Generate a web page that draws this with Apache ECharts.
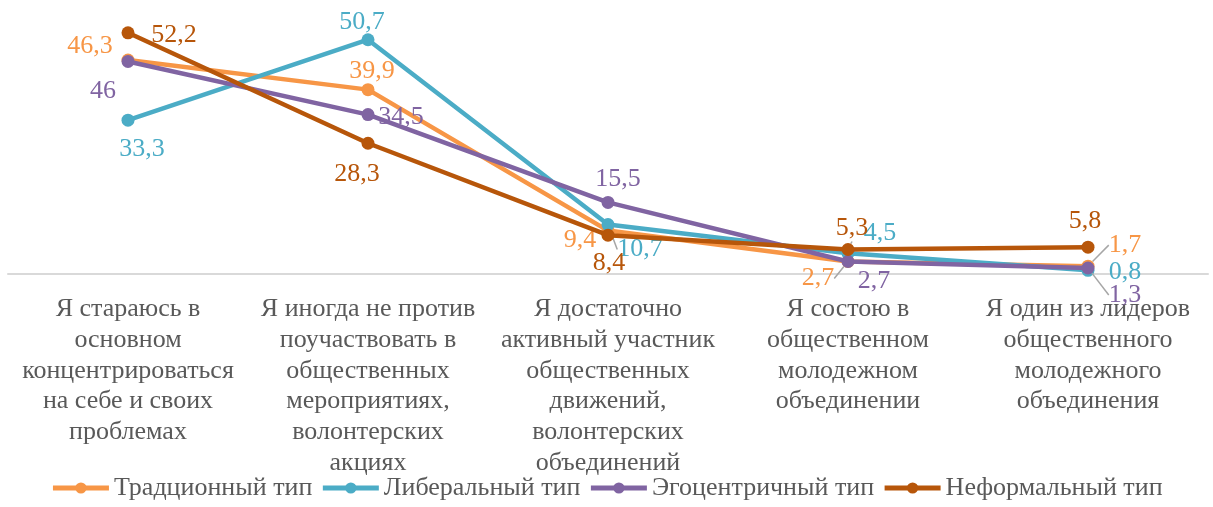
<!DOCTYPE html>
<html><head><meta charset="utf-8">
<script src="https://cdn.jsdelivr.net/npm/echarts@6/dist/echarts.min.js"></script>
<style>html,body{margin:0;padding:0;background:#fff}#c{width:1213px;height:507px}</style>
</head><body><div id="c"></div>
<script>
const categories = [
  'Я стараюсь в основном концентрироваться на себе и своих проблемах',
  'Я иногда не против поучаствовать в общественных мероприятиях, волонтерских акциях',
  'Я достаточно активный участник общественных движений, волонтерских объединений',
  'Я состою в общественном молодежном объединении',
  'Я один из лидеров общественного молодежного объединения'
];
const seriesNames = ['Традционный тип', 'Либеральный тип', 'Эгоцентричный тип', 'Неформальный тип'];
const traditional = [46.3, 39.9, 9.4, 2.7, 1.7];
const liberal = [33.3, 50.7, 10.7, 4.5, 0.8];
const egocentric = [46, 34.5, 15.5, 2.7, 1.3];
const informal = [52.2, 28.3, 8.4, 5.3, 5.8];

const colors = ['#F79646', '#4BACC6', '#8064A2', '#B7560A'];
// label center offsets relative to point [dx, dy]
const offsets = [
  [[-38,-14],[4,-18],[-28,10],[-30,17],[37,-21]],
  [[14,29],[-6,-18],[32,25],[32,-20],[37,2]],
  [[-25,30],[33,3],[10,-23],[26,20],[37,27]],
  [[46,2],[-11,31],[1,28],[4,-21],[-3,-26]]
];
const leaders = [
  [false,false,false,true,true],
  [false,false,true,false,false],
  [false,false,false,false,true],
  [false,false,false,true,false]
];
const allData = [traditional, liberal, egocentric, informal];
const FONT = "'Times New Roman', 'Liberation Serif', 'DejaVu Serif', serif";
const FS = 26;

const ctx = document.createElement('canvas').getContext('2d');
ctx.font = FS + "px " + FONT;
function wrap(text, maxW) {
  const words = text.split(' ');
  const lines = [];
  let cur = '';
  for (const w of words) {
    const t = cur ? cur + ' ' + w : w;
    if (cur && ctx.measureText(t).width > maxW) { lines.push(cur); cur = w; }
    else cur = t;
  }
  if (cur) lines.push(cur);
  return lines.join('\n');
}

const chart = echarts.init(document.getElementById('c'));
chart.setOption({
  animation: false,
  color: colors,
  textStyle: { fontFamily: FONT },
  grid: { left: 8, right: 5, top: 6, bottom: 233, containLabel: false, outerBoundsMode: 'none' },
  legend: {
    bottom: 1, left: 'center',
    itemWidth: 56, itemHeight: 14, itemGap: 8,
    lineStyle: { width: 5 },
    textStyle: { fontFamily: FONT, fontSize: FS, color: '#595959' },
    data: seriesNames
  },
  xAxis: {
    type: 'category', data: categories, boundaryGap: true,
    axisLine: { lineStyle: { color: '#D9D9D9', width: 2 } },
    axisTick: { show: false },
    axisLabel: {
      interval: 0, margin: 20, hideOverlap: false,
      formatter: v => wrap(v, 234),
      fontFamily: FONT, fontSize: FS, lineHeight: 30.7, color: '#595959'
    }
  },
  yAxis: { type: 'value', min: 0, max: 58, show: false, splitLine: { show: false } },
  series: allData.map((arr, si) => ({
    name: seriesNames[si], type: 'line', data: arr.map((v, i) => ({
      value: v,
      labelLine: { show: leaders[si][i], lineStyle: { color: '#A6A6A6', width: 1.5 } }
    })),
    symbol: 'circle', symbolSize: 13,
    lineStyle: { width: 4.5, color: colors[si] },
    itemStyle: { color: colors[si] },
    z: 2 + si,
    label: {
      show: true, position: 'inside',
      formatter: p => String(p.value).replace('.', ','),
      fontFamily: FONT, fontSize: FS, color: colors[si]
    },
    labelLine: { show: false, lineStyle: { color: '#A6A6A6', width: 1.5 } },
    labelLayout: p => ({ dx: offsets[si][p.dataIndex][0], dy: offsets[si][p.dataIndex][1] })
  }))
});
</script></body></html>
